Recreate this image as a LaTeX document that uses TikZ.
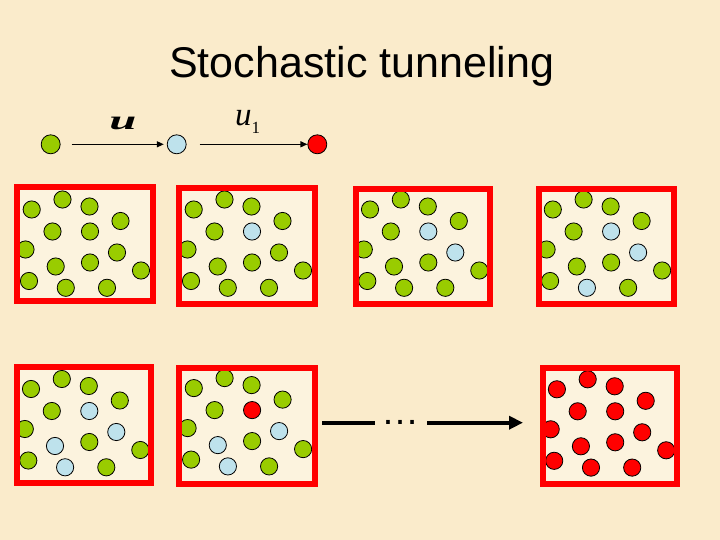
\documentclass[tikz,border=0pt]{standalone}
\usepackage{fontspec}
\setmainfont{Liberation Serif}
\newfontfamily\arialfont{Liberation Sans}
\usetikzlibrary{arrows.meta}
\definecolor{bgcol}{RGB}{250,235,203}
\definecolor{boxin}{RGB}{252,243,222}
\definecolor{grn}{RGB}{153,204,0}
\definecolor{blu}{RGB}{190,226,236}
\definecolor{rd}{RGB}{255,0,0}
\tikzset{
  dot/.style={circle,draw=black,line width=0.8pt,inner sep=0pt,minimum size=17.2pt},
  bigdot/.style={dot,minimum size=19pt},
  G/.style={dot,fill=grn},
  B/.style={dot,fill=blu},
  R/.style={dot,fill=rd},
  thinarrow/.style={line width=1.3pt,-{Triangle[length=7pt,width=6pt]}},
  thickline/.style={line width=4.3pt},
}
\begin{document}
\begin{tikzpicture}[x=1pt,y=-1pt]
\fill[bgcol] (0,0) rectangle (720,540);
\useasboundingbox (0,0) rectangle (720,540);
% title
\node[anchor=base,inner sep=0pt,font=\arialfont\fontsize{43}{50}\selectfont] (title) at (361.7,78) {Stochastic tunneling};
% top row
\node[bigdot,fill=grn] (t1) at (50.7,144.3) {};
\node[bigdot,fill=blu] (t2) at (176.7,144.3) {};
\node[bigdot,fill=rd] (t3) at (317.3,144.3) {};
\draw[thinarrow,shorten <=11pt,shorten >=3pt] (t1) -- (t2);
\draw[thinarrow,shorten <=13pt,shorten >=0pt] (t2) -- (t3);
\node[inner sep=0pt] (lu) at (123,123) {\scalebox{1.8}[1]{\fontsize{27}{27}\selectfont\bfseries\itshape u}};
\node[anchor=base west,inner sep=0pt] (lu1) at (235,126) {{\fontsize{33}{33}\selectfont\itshape u}\raisebox{-8pt}{\fontsize{17}{17}\selectfont 1}};
% box interiors
\foreach \a/\b/\c/\d in {17/187/153/301, 179/188/315/304, 356/189/490/304, 539/189/674/304,
                         17/367/151/483, 179/368/315/484, 543/368/677/484}
  \fill[boxin] (\a,\b) rectangle (\c,\d);
% circles
\foreach \bx/\ox/\oy/\cols in {
  1/0/0/{G,G,G,G,G,G,G,G,G,G,G,G,G,G},
  2/162/0/{G,G,G,G,G,B,G,G,G,G,G,G,G,G},
  3/338.3/0/{G,G,G,G,G,B,G,B,G,G,G,G,G,G},
  4/521.1/0/{G,G,G,G,G,B,G,B,G,G,G,G,B,G},
  5/-0.7/179.5/{G,G,G,G,G,B,G,B,B,G,G,G,B,G},
  6/162.1/178.6/{G,G,G,G,G,R,G,B,B,G,G,G,B,G},
  7/525.2/179.8/{R,R,R,R,R,R,R,R,R,R,R,R,R,R}}{
  \foreach \px/\py [count=\i] in {31.7/209.5, 62.5/199.5, 89.5/206.5, 120.5/221,
      52.5/231.5, 90/231.5, 25.5/249.5, 117/252.5, 55.7/266.5, 90/262.5,
      141/270.5, 29/281, 65.8/287.8, 107/287.8}{
    \foreach \col [count=\j] in \cols {
      \ifnum\i=\j
        \node[\col] (c\bx-\i) at (\px+\ox,\py+\oy) {};
      \fi
    }
  }
}
% frames
\foreach \a/\b/\c/\d in {17/187/153/301, 179/188/315/304, 356/189/490/304, 539/189/674/304,
                         17/367/151/483, 179/368/315/484, 543/368/677/484}
  \draw[draw=rd,line width=6pt] (\a,\b) rectangle (\c,\d);
% big arrow
\coordinate (a1) at (322,422.7);
\coordinate (a2) at (375,422.7);
\coordinate (a3) at (427,422.7);
\coordinate (a4) at (523,422.7);
\draw[thickline] (a1) -- (a2);
\draw[thickline,-{Triangle[length=14pt,width=13pt]}] (a3) -- (a4);
\node[anchor=base,inner sep=0pt,font=\arialfont\fontsize{38}{38}\selectfont] (dots) at (400.5,424.6) {…};
\end{tikzpicture}
\end{document}
